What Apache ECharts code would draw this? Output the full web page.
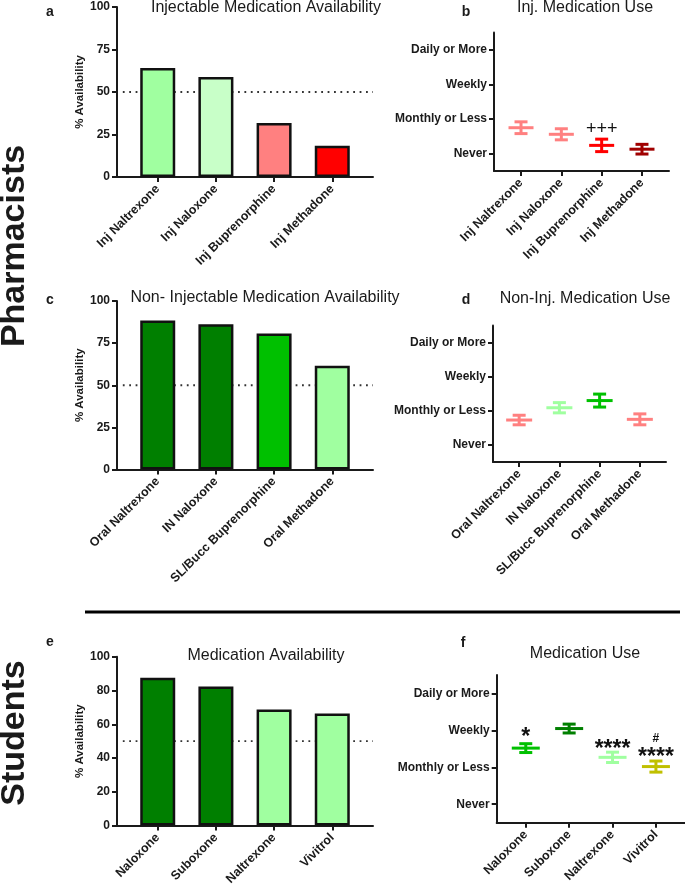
<!DOCTYPE html>
<html><head><meta charset="utf-8">
<script src="https://cdn.jsdelivr.net/npm/echarts@6/dist/echarts.min.js"></script>
<style>html,body{margin:0;padding:0;background:#fff}#c{width:685px;height:888px}</style>
</head><body><div id="c"></div>
<script>
// ---- data ----
const catA = ['Inj Naltrexone','Inj Naloxone','Inj Buprenorphine','Inj Methadone'];
const valA = [64.1, 58.8, 31.8, 18.4];
const colA = ['#A0FFA0','#C8FFC8','#FF8080','#FF0000'];

const catB = ['Inj Naltrexone','Inj Naloxone','Inj Buprenorphine','Inj Methadone'];
const meanB = [0.75, 0.56, 0.24, 0.13];
const errB = [0.17, 0.16, 0.18, 0.14];
const colB = ['#FF8080','#FF8080','#FF0000','#A00000'];
const annB = [[2, 0.72, '+++']];

const catC = ['Oral Naltrexone','IN Naloxone','SL/Bucc Buprenorphine','Oral Methadone'];
const valC = [88.5, 86.2, 80.7, 61.5];
const colC = ['#007F00','#007F00','#00C000','#A0FFA0'];

const catD = ['Oral Naltrexone','IN Naloxone','SL/Bucc Buprenorphine','Oral Methadone'];
const meanD = [0.73, 1.09, 1.30, 0.75];
const errD = [0.14, 0.15, 0.19, 0.16];
const colD = ['#FF8080','#A0FFA0','#00C000','#FF8080'];

const catE = ['Naloxone','Suboxone','Naltrexone','Vivitrol'];
const valE = [87.6, 82.3, 68.7, 66.3];
const colE = ['#007F00','#007F00','#A0FFA0','#A0FFA0'];

const catF = ['Naloxone','Suboxone','Naltrexone','Vivitrol'];
const meanF = [1.52, 2.05, 1.27, 1.02];
const errF = [0.12, 0.12, 0.14, 0.15];
const colF = ['#00C000','#007F00','#A0FFA0','#C0C000'];
const annF = [[0, 1.80, '*'], [2, 1.47, '****'], [3, 1.25, '****'], [3, 1.77, '#']];

const useLevels = ['Never','Monthly or Less','Weekly','Daily or More'];
const useTicks = [0, 1, 2, 3];
const catTicks = [0, 1, 2, 3];
const refLine = 50;

// ---- layout / style ----
const FONT = '"Liberation Sans", Arial, sans-serif';
const INK = '#1a1a1a';
const grids = [
  {left:117, top:7, width:256, height:170},
  {left:494, top:32.5, width:175, height:138.5},
  {left:117, top:301, width:256, height:168.5},
  {left:493, top:325.5, width:173, height:136.5},
  {left:117, top:656.7, width:256, height:169.3},
  {left:496.7, top:675, width:188.3, height:147.7}
];
const xRanges = [[-0.7,3.7],[-0.67,3.67],[-0.7,3.7],[-0.65,3.65],[-0.7,3.7],[-0.67,3.67]];
const cats = [catA, catB, catC, catD, catE, catF];

const xAxes = grids.map((g, i) => ({
  type:'value', gridIndex:i, min:xRanges[i][0], max:xRanges[i][1],
  axisLine:{show:true, onZero:false, lineStyle:{color:INK, width:2}},
  axisTick:{show:true, customValues:catTicks, length:5, lineStyle:{color:INK, width:2}},
  axisLabel:{customValues:catTicks, rotate:45, margin:10, fontFamily:FONT, fontWeight:'bold', fontSize:12.5, color:INK,
    formatter:(v)=>cats[i][Math.round(v)]},
  splitLine:{show:false}
}));

function availY(i, ticks){
  return {type:'value', gridIndex:i, min:0, max:100, interval:ticks[1]-ticks[0],
    name:'% Availability', nameLocation:'middle', nameGap:31,
    nameTextStyle:{fontFamily:FONT, fontSize:11.5, fontWeight:'bold', color:INK},
    axisLine:{show:true, onZero:false, lineStyle:{color:INK, width:2}},
    axisTick:{show:true, length:5, lineStyle:{color:INK, width:2}},
    axisLabel:{fontFamily:FONT, fontWeight:'bold', fontSize:12, color:INK, margin:7},
    splitLine:{show:false}};
}
function useY(i){
  return {type:'value', gridIndex:i, min:-0.5, max:3.5,
    axisLine:{show:true, onZero:false, lineStyle:{color:INK, width:2}},
    axisTick:{show:true, customValues:useTicks, length:5, lineStyle:{color:INK, width:2}},
    axisLabel:{customValues:useTicks, fontFamily:FONT, fontWeight:'bold', fontSize:12, color:INK, margin:7,
      formatter:(v)=>useLevels[Math.round(v)]},
    splitLine:{show:false}};
}
const yAxes = [availY(0,[0,25]), useY(1), availY(2,[0,25]), useY(3), availY(4,[0,20]), useY(5)];

function barSeries(i, vals, cols){
  return {type:'bar', xAxisIndex:i, yAxisIndex:i, barWidth:35, z:3,
    data: vals.map((v,k)=>({value:[k,v], itemStyle:{color:cols[k]}})),
    itemStyle:{borderColor:'#111', borderWidth:2.5}, silent:true};
}
function refSeries(i){
  return {type:'line', xAxisIndex:i, yAxisIndex:i, z:1, symbol:'none', silent:true,
    data:[[-0.6, refLine],[3.7, refLine]],
    lineStyle:{color:'#333', width:1.8, type:[1.8,4.6]}};
}
function errSeries(i, means, errs, cols, halfW){
  return {type:'custom', xAxisIndex:i, yAxisIndex:i, silent:true,
    data: means.map((m,k)=>[k, m, m-errs[k], m+errs[k]]),
    renderItem:(params, api)=>{
      const x = api.value(0);
      const pm = api.coord([x, api.value(1)]);
      const pl = api.coord([x, api.value(2)]);
      const ph = api.coord([x, api.value(3)]);
      const st = {stroke:cols[params.dataIndex], lineWidth:3, lineCap:'butt'};
      const C = 6.5;
      return {type:'group', children:[
        {type:'line', shape:{x1:pm[0]-halfW, y1:pm[1], x2:pm[0]+halfW, y2:pm[1]}, style:st},
        {type:'line', shape:{x1:pl[0], y1:pl[1], x2:ph[0], y2:ph[1]}, style:st},
        {type:'line', shape:{x1:pl[0]-C, y1:pl[1], x2:pl[0]+C, y2:pl[1]}, style:st},
        {type:'line', shape:{x1:ph[0]-C, y1:ph[1], x2:ph[0]+C, y2:ph[1]}, style:st}
      ]};
    }};
}
function annSeries(i, anns){
  return {type:'custom', xAxisIndex:i, yAxisIndex:i, silent:true, z:5,
    data: anns.map(a=>[a[0], a[1]]),
    renderItem:(params, api)=>{
      const p = api.coord([api.value(0), api.value(1)]);
      const t = anns[params.dataIndex][2];
      const size = t==='#' ? 12 : (t==='+++' ? 18 : 23);
      const w = t==='+++' ? 'normal' : 'bold';
      return {type:'text', x:p[0], y:p[1],
        style:{text:t, font: w+' '+size+'px '+FONT, fill:'#111', align:'center', verticalAlign:'middle'}};
    }};
}

function txt(x, y, text, font, extra){
  return Object.assign({type:'text', x:x, y:y, silent:true,
    style:{text:text, font:font, fill:'#1a1a1a', align:'center', verticalAlign:'middle'}}, extra||{});
}
const titleFont = 'normal 16px ' + FONT;
const letterFont = 'bold 14px ' + FONT;
const bigFont = 'bold 34px ' + FONT;

const option = {
  backgroundColor:'#fff',
  animation:false,
  grid: grids,
  xAxis: xAxes,
  yAxis: yAxes,
  series: [
    refSeries(0), barSeries(0, valA, colA),
    errSeries(1, meanB, errB, colB, 12.5), annSeries(1, annB),
    refSeries(2), barSeries(2, valC, colC),
    errSeries(3, meanD, errD, colD, 13),
    refSeries(4), barSeries(4, valE, colE),
    errSeries(5, meanF, errF, colF, 14), annSeries(5, annF)
  ],
  graphic: [
    txt(266, 8, 'Injectable Medication Availability', titleFont),
    txt(585, 8, 'Inj. Medication Use', titleFont),
    txt(265, 298, 'Non- Injectable Medication Availability', titleFont),
    txt(585, 299, 'Non-Inj. Medication Use', titleFont),
    txt(266, 656, 'Medication Availability', titleFont),
    txt(585, 654, 'Medication Use', titleFont),
    txt(50, 12, 'a', letterFont), txt(466, 12, 'b', letterFont),
    txt(50, 300, 'c', letterFont), txt(466, 300, 'd', letterFont),
    txt(50, 642, 'e', letterFont), txt(463, 643, 'f', letterFont),
    txt(15, 246, 'Pharmacists', bigFont, {rotation:Math.PI/2}),
    txt(15, 733, 'Students', bigFont, {rotation:Math.PI/2}),
    {type:'line', silent:true, shape:{x1:85, y1:612, x2:680, y2:612}, style:{stroke:'#000', lineWidth:3}}
  ]
};
const chart = echarts.init(document.getElementById('c'), null, {renderer:'canvas'});
chart.setOption(option);
</script>
</body></html>
